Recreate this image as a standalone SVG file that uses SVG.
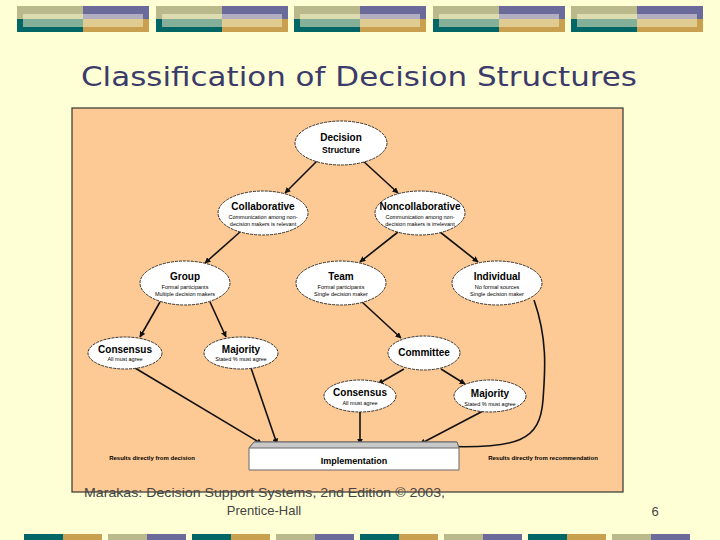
<svg xmlns="http://www.w3.org/2000/svg" width="720" height="540" viewBox="0 0 720 540">
<defs>
<style>
.n{fill:#fff;stroke:#333;stroke-width:1;stroke-dasharray:3 1}
.t{font-family:"Liberation Sans",Arial,sans-serif;font-weight:bold;fill:#000;text-anchor:middle}
.h{font-size:10px}.s{font-size:5.5px;font-weight:normal}
.e{fill:none;stroke:#111;stroke-width:1.6;marker-end:url(#a)}
.f{font-family:"Liberation Sans",Arial,sans-serif;font-size:13px;fill:#444}
</style>
<marker id="a" viewBox="0 0 10 10" refX="9" refY="5" markerWidth="6" markerHeight="6" orient="auto" markerUnits="userSpaceOnUse"><path d="M0,0L10,5L0,10z" fill="#111"/></marker>
<g id="hb"><rect x="0" y="0" width="66" height="13" fill="#b9b98b"/><rect x="66" y="0" width="66" height="13" fill="#6b6b9b"/><rect x="0" y="13" width="66" height="13" fill="#006666"/><rect x="66" y="13" width="66" height="13" fill="#c8a050"/><rect x="6" y="8" width="60" height="10" fill="#dcdcb0"/><rect x="66" y="8" width="60" height="10" fill="#b0aec0"/><rect x="6" y="13" width="60" height="8" fill="#84b09a"/><rect x="66" y="13" width="60" height="8" fill="#e0cc90"/></g>
</defs>
<rect width="720" height="540" fill="#ffffd5"/>
<g id="header">
<use href="#hb" x="17" y="6"/><use href="#hb" x="156" y="6"/><use href="#hb" x="294" y="6"/><use href="#hb" x="433" y="6"/><use href="#hb" x="571" y="6"/>
</g>
<g id="footer">
<rect x="24" y="534" width="39" height="6" fill="#006666"/><rect x="63" y="534" width="39" height="6" fill="#c8a050"/>
<rect x="108" y="534" width="39" height="6" fill="#b9b98b"/><rect x="147" y="534" width="39" height="6" fill="#6b6b9b"/>
<rect x="192" y="534" width="39" height="6" fill="#006666"/><rect x="231" y="534" width="39" height="6" fill="#c8a050"/>
<rect x="276" y="534" width="39" height="6" fill="#b9b98b"/><rect x="315" y="534" width="39" height="6" fill="#6b6b9b"/>
<rect x="360" y="534" width="39" height="6" fill="#006666"/><rect x="399" y="534" width="39" height="6" fill="#c8a050"/>
<rect x="444" y="534" width="39" height="6" fill="#b9b98b"/><rect x="483" y="534" width="39" height="6" fill="#6b6b9b"/>
<rect x="528" y="534" width="39" height="6" fill="#006666"/><rect x="567" y="534" width="39" height="6" fill="#c8a050"/>
<rect x="612" y="534" width="39" height="6" fill="#b9b98b"/><rect x="651" y="534" width="39" height="6" fill="#6b6b9b"/>
</g>
<text x="81" y="86" font-family="DejaVu Sans,Verdana,sans-serif" font-size="26" fill="#3b3b6b" textLength="556" lengthAdjust="spacingAndGlyphs">Classification of Decision Structures</text>
<rect x="72" y="108" width="551" height="384" fill="#fdca96" stroke="#333" stroke-width="1.2"/>
<g id="connectors">
<path class="e" d="M318,160L285,193"/>
<path class="e" d="M362,160L398,193"/>
<path class="e" d="M240,232L205,263"/>
<path class="e" d="M398,232L360,262"/>
<path class="e" d="M440,232L478,262"/>
<path class="e" d="M160,302L140,337"/>
<path class="e" d="M210,302L226,337"/>
<path class="e" d="M362,302L401,338"/>
<path class="e" d="M404,369L378,384"/>
<path class="e" d="M441,369L465,384"/>
<path class="e" d="M135,368L262,444"/>
<path class="e" d="M251,368L277,444"/>
<path class="e" d="M360,412L360,444"/>
<path class="e" d="M483,411L420,444"/>
<path class="e" d="M534,300C548,340 545,372 543,400C540,440 520,450 437,446"/>
</g>
<g id="decision"><ellipse class="n" cx="341" cy="143" rx="46" ry="22"/><text class="t h" x="341" y="141">Decision</text><text class="t" x="341" y="153" font-size="8.5">Structure</text></g>
<g id="collaborative"><ellipse class="n" cx="263" cy="213" rx="45" ry="22"/><text class="t h" x="263" y="210">Collaborative</text><text class="t s" x="263" y="219">Communication among non-</text><text class="t s" x="263" y="226">decision makers is relevant</text></g>
<g id="noncollaborative"><ellipse class="n" cx="420" cy="213" rx="45" ry="22"/><text class="t h" x="420" y="210">Noncollaborative</text><text class="t s" x="420" y="219">Communication among non-</text><text class="t s" x="420" y="226">decision makers is irrelevant</text></g>
<g id="group"><ellipse class="n" cx="185" cy="283" rx="45" ry="22"/><text class="t h" x="185" y="280">Group</text><text class="t s" x="185" y="289">Formal participants</text><text class="t s" x="185" y="296">Multiple decision makers</text></g>
<g id="team"><ellipse class="n" cx="341" cy="283" rx="45" ry="22"/><text class="t h" x="341" y="280">Team</text><text class="t s" x="341" y="289">Formal participants</text><text class="t s" x="341" y="296">Single decision maker</text></g>
<g id="individual"><ellipse class="n" cx="497" cy="283" rx="45" ry="22"/><text class="t h" x="497" y="280">Individual</text><text class="t s" x="497" y="289">No formal sources</text><text class="t s" x="497" y="296">Single decision maker</text></g>
<g id="consensus1"><ellipse class="n" cx="125" cy="353" rx="37" ry="16"/><text class="t h" x="125" y="353">Consensus</text><text class="t s" x="125" y="361">All must agree</text></g>
<g id="majority1"><ellipse class="n" cx="241" cy="353" rx="37" ry="16"/><text class="t h" x="241" y="353">Majority</text><text class="t s" x="241" y="361">Stated % must agree</text></g>
<g id="committee"><ellipse class="n" cx="424" cy="353" rx="36" ry="17"/><text class="t h" x="424" y="356">Committee</text></g>
<g id="consensus2"><ellipse class="n" cx="360" cy="396" rx="36" ry="16"/><text class="t h" x="360" y="396">Consensus</text><text class="t s" x="360" y="405">All must agree</text></g>
<g id="majority2"><ellipse class="n" cx="490" cy="396" rx="36" ry="16"/><text class="t h" x="490" y="397">Majority</text><text class="t s" x="490" y="406">Stated % must agree</text></g>
<g id="implementation">
<path d="M249,470V448L254,442H457L459,448V470z" fill="#fff" stroke="#666"/>
<path d="M249,448L254,442H457L459,448z" fill="#c8c8c8" stroke="#666"/>
<text class="t" x="354" y="464" font-size="9">Implementation</text>
</g>
<text class="t" x="152" y="460" font-size="6">Results directly from decision</text>
<text class="t" x="543" y="460" font-size="6">Results directly from recommendation</text>
<text class="f" x="84" y="497" textLength="361" lengthAdjust="spacingAndGlyphs">Marakas: Decision Support Systems, 2nd Edition  © 2003,</text>
<text class="f" x="264" y="515" text-anchor="middle">Prentice-Hall</text>
<text class="f" x="655" y="516" text-anchor="middle">6</text>
</svg>
